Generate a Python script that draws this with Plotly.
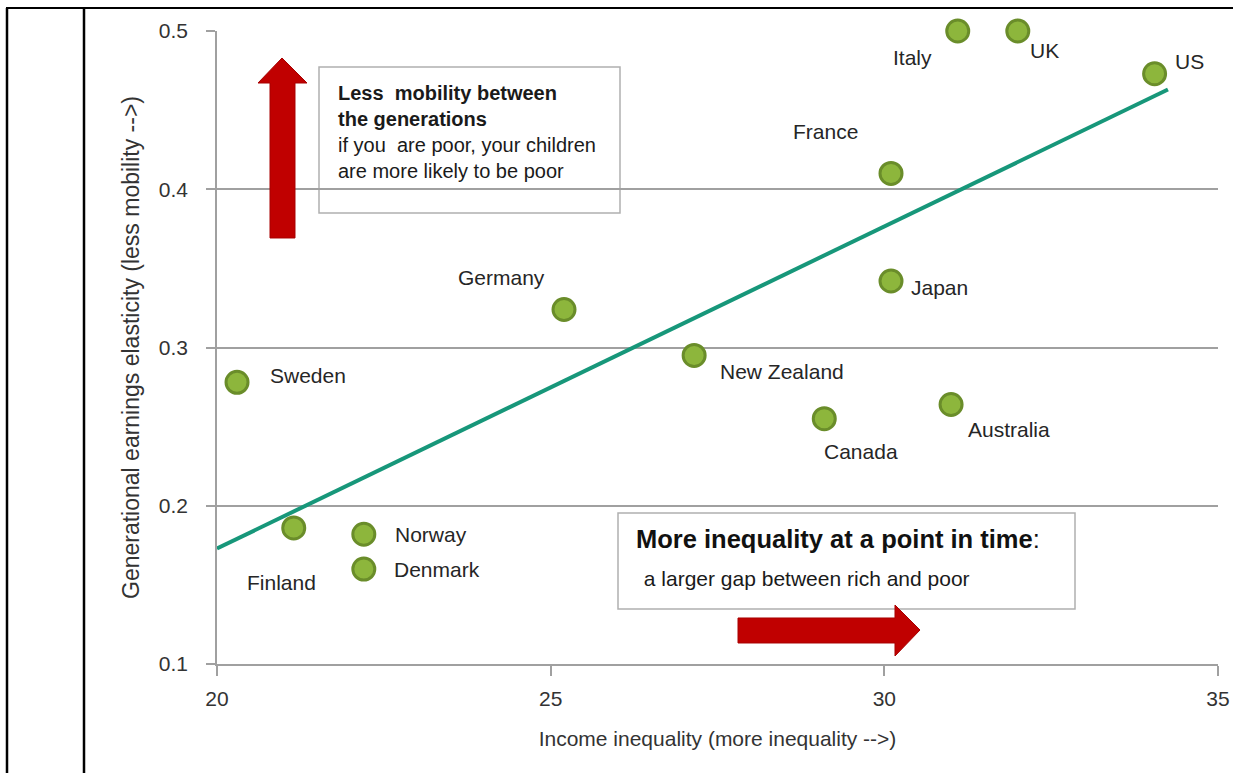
import plotly.graph_objects as go

# ---------------- data ----------------
countries = ["Italy", "UK", "US", "France", "Japan", "Germany", "New Zealand",
             "Sweden", "Canada", "Australia", "Finland", "Norway", "Denmark"]
inequality = [31.1, 32.0, 34.05, 30.1, 30.1, 25.2, 27.15, 20.3, 29.1, 31.0, 21.15, 22.2, 22.2]
elasticity = [0.50, 0.50, 0.473, 0.41, 0.342, 0.324, 0.295, 0.278, 0.255, 0.264, 0.186, 0.182, 0.160]

trend_x = [20.0, 34.25]
trend_y = [0.173, 0.463]

x_ticks = [20, 25, 30, 35]
y_ticks = [0.1, 0.2, 0.3, 0.4, 0.5]

# label offsets in pixels (style only)
label_dx = [-45, 27, 35, -66, 48, -63, 88, 71, 37, 58, -12, 67, 73]
label_dy = [26, 19, -12, -42, 6, -32, 16, -7, 33, 25, 55, 0, 0]

# ---------------- geometry helpers (pixels -> paper) ----------------
W, H = 1233, 773
L, R, T, B = 217, 15, 31, 109
PW, PH = W - L - R, H - T - B
FONT = "Liberation Sans, Arial, sans-serif"


def px(x):
    return (x - L) / PW


def py(y):
    return (H - B - y) / PH


fig = go.Figure()

fig.add_trace(go.Scatter(
    x=trend_x, y=trend_y, mode="lines",
    line=dict(color="#17977a", width=4),
    hoverinfo="skip", showlegend=False, cliponaxis=False))

fig.add_trace(go.Scatter(
    x=inequality, y=elasticity, mode="markers", text=countries,
    marker=dict(size=22, color="#8db63c", line=dict(color="#6a8d2a", width=3)),
    showlegend=False, cliponaxis=False))

annotations = []
for c, xv, yv, dx, dy in zip(countries, inequality, elasticity, label_dx, label_dy):
    annotations.append(dict(
        x=xv, y=yv, xref="x", yref="y", text=c, showarrow=False,
        xshift=dx, yshift=-dy, xanchor="center", yanchor="middle",
        font=dict(family=FONT, size=21, color="#262626")))

# annotation box texts
annotations.append(dict(
    x=px(336), y=py(80), xref="paper", yref="paper", xanchor="left", yanchor="top",
    align="left", showarrow=False,
    text=("<b>Less  mobility between<br>the generations</b><br>"
          "if you  are poor, your children<br>are more likely to be poor"),
    font=dict(family=FONT, size=20, color="#1a1a1a")))
annotations.append(dict(
    x=px(634), y=py(539), xref="paper", yref="paper", xanchor="left", yanchor="middle",
    align="left", showarrow=False,
    text="<b>More inequality at a point in time</b>:",
    font=dict(family=FONT, size=25.5, color="#111111")))
annotations.append(dict(
    x=px(636), y=py(578), xref="paper", yref="paper", xanchor="left", yanchor="middle",
    align="left", showarrow=False,
    text=" a larger gap between rich and poor",
    font=dict(family=FONT, size=21, color="#1a1a1a")))

shapes = []
# text boxes
shapes.append(dict(type="rect", xref="paper", yref="paper",
                   x0=px(319), x1=px(620), y0=py(213), y1=py(67),
                   line=dict(color="#b0b0b0", width=1.5), fillcolor="white", layer="below"))
shapes.append(dict(type="rect", xref="paper", yref="paper",
                   x0=px(618), x1=px(1075), y0=py(609), y1=py(513),
                   line=dict(color="#b0b0b0", width=1.5), fillcolor="white", layer="below"))


def poly(points):
    return "M " + " L ".join(f"{px(a):.5f},{py(b):.5f}" for a, b in points) + " Z"


# up arrow
shapes.append(dict(type="path", xref="paper", yref="paper",
                   path=poly([(270, 238), (270, 83), (258, 83), (282, 58), (307, 83), (295, 83), (295, 238)]),
                   fillcolor="#c00000", line=dict(color="#a80000", width=1)))
# right arrow
shapes.append(dict(type="path", xref="paper", yref="paper",
                   path=poly([(738, 618), (895, 618), (895, 605), (920, 630), (895, 656), (895, 643), (738, 643)]),
                   fillcolor="#c00000", line=dict(color="#a80000", width=1)))

# page borders
shapes.append(dict(type="line", xref="paper", yref="paper",
                   x0=px(6), x1=px(1240), y0=py(8), y1=py(8), line=dict(color="black", width=2)))
shapes.append(dict(type="line", xref="paper", yref="paper",
                   x0=px(7), x1=px(7), y0=py(8), y1=py(780), line=dict(color="black", width=2.5)))
shapes.append(dict(type="line", xref="paper", yref="paper",
                   x0=px(84), x1=px(84), y0=py(8), y1=py(780), line=dict(color="black", width=2.5)))

fig.update_layout(
    width=W, height=H,
    margin=dict(l=L, r=R, t=T, b=B, pad=0, autoexpand=False),
    paper_bgcolor="white", plot_bgcolor="white",
    font=dict(family=FONT, color="#333333"),
    annotations=annotations, shapes=shapes,
    xaxis=dict(range=[20, 35], tickvals=x_ticks, ticktext=[str(v) for v in x_ticks],
               showgrid=False, zeroline=False, automargin=False,
               showline=True, linecolor="#a0a0a0", linewidth=1.5,
               ticks="outside", ticklen=10, tickcolor="#a0a0a0", tickwidth=1.5,
               tickfont=dict(size=21, color="#333333"), ticklabelstandoff=5,
               title=dict(text="Income inequality (more inequality -->)",
                          font=dict(size=21, color="#333333"), standoff=22)),
    yaxis=dict(range=[0.1, 0.5], tickvals=y_ticks, ticktext=[f"{v:.1f}" for v in y_ticks],
               showgrid=True, gridcolor="#a0a0a0", gridwidth=1.5, zeroline=False, automargin=False,
               showline=True, linecolor="#a0a0a0", linewidth=1.5,
               ticks="outside", ticklen=9, tickcolor="#a0a0a0", tickwidth=1.5,
               tickfont=dict(size=21, color="#333333"), ticklabelstandoff=14,
               title=dict(text="Generational earnings elasticity (less mobility -->)",
                          font=dict(size=23, color="#333333"), standoff=13)),
)

fig.write_html("out.html", config={"displayModeBar": False},
               post_script="document.body.style.margin='0px';document.body.style.overflow='hidden';")
